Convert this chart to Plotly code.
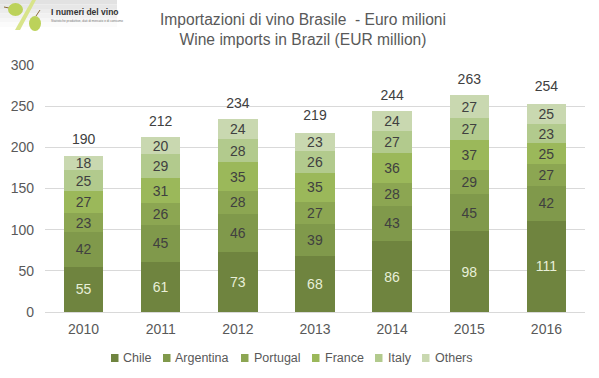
import plotly.graph_objects as go

years = ["2010", "2011", "2012", "2013", "2014", "2015", "2016"]
chile = [55, 61, 73, 68, 86, 98, 111]
argentina = [42, 45, 46, 39, 43, 45, 42]
portugal = [23, 26, 28, 27, 28, 29, 27]
france = [27, 31, 35, 35, 36, 37, 25]
italy = [25, 29, 28, 26, 27, 27, 23]
others = [18, 20, 24, 23, 24, 27, 25]
totals = [190, 212, 234, 219, 244, 263, 254]

names = ["Chile", "Argentina", "Portugal", "France", "Italy", "Others"]
series = [chile, argentina, portugal, france, italy, others]
colors = ["#6f843f", "#80994b", "#8ca652", "#9bb85a", "#b2ca8d", "#c9d8b0"]
FONT = "Liberation Sans"
TXT = "#595959"

L, T, W, H = 45, 65, 540, 247
px = lambda v: (v - L) / W
py = lambda v: (T + H - v) / H

fig = go.Figure()
for i, (n, v, c) in enumerate(zip(names, series, colors)):
    fig.add_bar(x=years, y=v, name=n, marker=dict(color=c, line_width=0),
                text=v, textposition="inside", insidetextanchor="middle",
                textangle=0, constraintext="none",
                textfont=dict(size=14, family=FONT, color="#e8efd8" if i == 0 else "#404040"))
fig.add_scatter(x=years, y=totals, mode="markers+text", text=totals, textposition="top center",
                marker=dict(size=11, opacity=0),
                textfont=dict(size=14, family=FONT, color="#404040"),
                showlegend=False, hoverinfo="skip", cliponaxis=False)

anns = [dict(text="Importazioni di vino Brasile  - Euro milioni<br>Wine imports in Brazil (EUR million)",
             xref="paper", yref="paper", x=px(303), y=py(9), xanchor="center", yanchor="top",
             showarrow=False, align="center",
             font=dict(size=15.6, family=FONT, color=TXT))]
leg_sw = [111, 163, 241, 312, 375, 422]
leg_tx = [121, 173, 252, 323, 386, 433]
shapes = []
for n, c, sx, tx in zip(names, colors, leg_sw, leg_tx):
    shapes.append(dict(type="rect", xref="paper", yref="paper", layer="above", line_width=0, fillcolor=c,
                       x0=px(sx), x1=px(sx + 7.5), y0=py(362), y1=py(354)))
    anns.append(dict(text=n, xref="paper", yref="paper", x=px(tx), y=py(357.5),
                     xanchor="left", yanchor="middle", showarrow=False,
                     font=dict(size=12.5, family=FONT, color=TXT)))

# logo
for k in range(6):
    g = 226 + k * 5
    shapes.append(dict(type="rect", xref="paper", yref="paper", layer="above", line_width=0,
                       fillcolor=f"rgb({g},{g},{g})",
                       x0=px(0), x1=px(117), y0=py((k + 1) * 4.5), y1=py(k * 4.5)))
shapes += [
    dict(type="path", xref="paper", yref="paper", layer="above", line=dict(color="#8a6a3a", width=1),
         path=f"M {px(4)},{py(7)} L {px(9)},{py(8)}"),
    dict(type="path", xref="paper", yref="paper", layer="above", line=dict(color="#8a6a3a", width=1),
         path=f"M {px(36)},{py(16)} L {px(40)},{py(10)}"),
    dict(type="circle", xref="paper", yref="paper", layer="above", line_width=0, fillcolor="#bcd25a",
         x0=px(8), x1=px(23), y0=py(16), y1=py(3)),
    dict(type="path", xref="paper", yref="paper", layer="above", line_width=0, fillcolor="#d8e48a",
         path=f"M {px(15)},{py(30)} L {px(32)},{py(0)} L {px(36)},{py(0)} L {px(20)},{py(30)} Z"),
    dict(type="circle", xref="paper", yref="paper", layer="above", line_width=0, fillcolor="#bcd25a",
         x0=px(29), x1=px(41), y0=py(31), y1=py(16)),
]
anns.append(dict(text="<b>I numeri del vino</b>", xref="paper", yref="paper", x=px(50), y=py(12.5),
                 xanchor="left", yanchor="middle", showarrow=False, borderpad=0,
                 font=dict(size=8.5, family=FONT, color="#333333")))
anns.append(dict(text="Statistiche produttive, dati di mercato e di consumo", xref="paper", yref="paper",
                 x=px(50), y=py(20.5), xanchor="left", yanchor="middle", showarrow=False, borderpad=0,
                 font=dict(size=3.2, family=FONT, color="#777777")))

fig.update_layout(
    barmode="stack", bargap=0.49, width=599, height=378, showlegend=False,
    margin=dict(l=L, r=599 - L - W, t=T, b=378 - T - H), paper_bgcolor="white", plot_bgcolor="white",
    shapes=shapes, annotations=anns,
    font=dict(family=FONT, color=TXT, size=13),
    xaxis=dict(type="category", showgrid=False, showline=True, linecolor="#d9d9d9", ticks="",
               ticklabelstandoff=4, tickfont=dict(size=14, family=FONT, color=TXT)),
    yaxis=dict(range=[0, 300], dtick=50, gridcolor="#d9d9d9", gridwidth=1, showline=False, zeroline=False,
               ticks="", ticklabelstandoff=10, tickfont=dict(size=14, family=FONT, color=TXT)),
)
fig.write_html("out.html", post_script="document.body.style.margin='0';",
               config={"displayModeBar": False})
